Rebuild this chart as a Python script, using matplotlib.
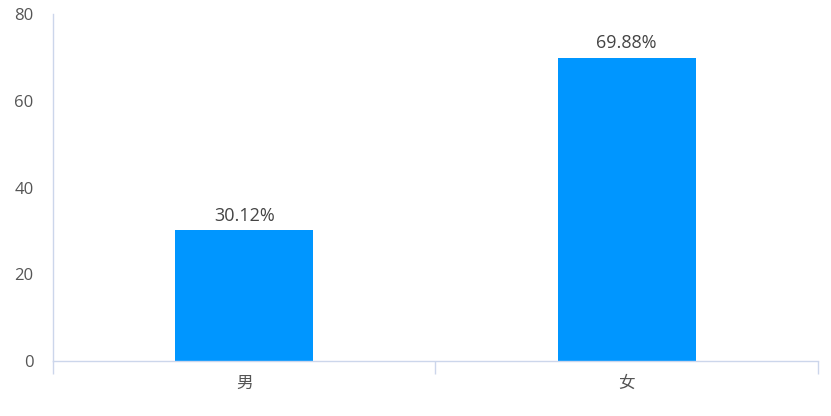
import matplotlib
matplotlib.use("Agg")
import matplotlib.pyplot as plt

categories = ["男", "女"]
values = [30.12, 69.88]
labels = ["30.12%", "69.88%"]
yticks = [0, 20, 40, 60, 80]

plt.rcParams['font.family'] = ['Open Sans', 'Noto Sans CJK SC', 'DejaVu Sans']

fig = plt.figure(figsize=(8.31, 4.16), dpi=100)
ax = fig.add_axes([53/831, 1 - 361/416, (818-53)/831, (361-14)/416])

axis_color = "#CCD6EB"
text_color = "#555555"
bar_color = "#0096FF"

x = list(range(len(categories)))
bars = ax.bar(x, values, width=0.36, color=bar_color)
for xi, v, lab in zip(x, values, labels):
    ax.annotate(lab, (xi, v), xytext=(0, 4), textcoords="offset points",
                ha="center", va="bottom", fontsize=13, color="#444444")

ax.set_xlim(-0.5, len(categories) - 0.5)
ax.set_ylim(0, 80)
ax.set_yticks(yticks)
ax.set_xticks(x)
ax.set_xticklabels(categories)
ax.set_xticks([i - 0.5 for i in range(len(categories) + 1)], minor=True)

for s in ["top", "right"]:
    ax.spines[s].set_visible(False)
for s in ["left", "bottom"]:
    ax.spines[s].set_color(axis_color)
    ax.spines[s].set_linewidth(1)

ax.tick_params(axis="y", length=0, pad=14, labelsize=12, labelcolor=text_color)
ax.tick_params(axis="x", which="major", length=0, pad=10.5, labelsize=12, labelcolor=text_color)
ax.tick_params(axis="x", which="minor", length=9.5, width=1, color=axis_color)

fig.savefig("out.png", dpi=100)
